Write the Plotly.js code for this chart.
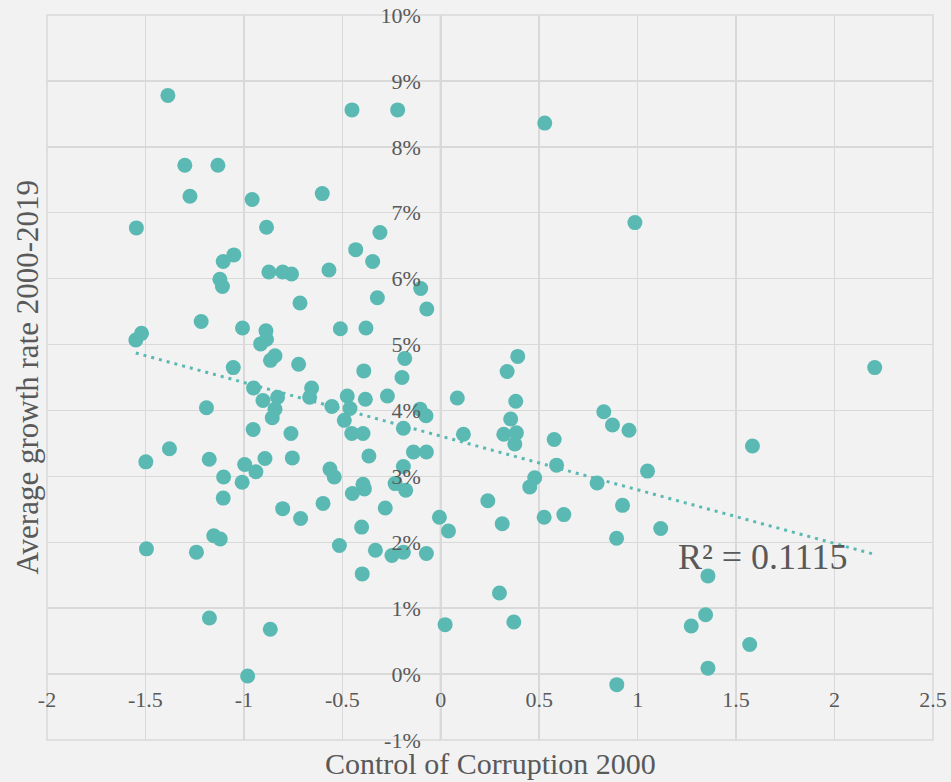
<!DOCTYPE html>
<html>
<head>
<meta charset="utf-8">
<script src="https://cdn.plot.ly/plotly-3.0.1.min.js"></script>
<style>
  html, body { margin: 0; padding: 0; background: #f2f2f2; }
  #chart { width: 951px; height: 782px; }
</style>
</head>
<body>
<div id="chart"></div>
<script>
// Control of Corruption 2000 (x) vs Average growth rate 2000-2019 in % (y)
const corruptionControl = [
  -1.386, -1.300, -1.132, -1.274, -0.958, -1.546, -1.051, -1.105, -1.122, -1.109,
  -0.885, -0.873, -0.803, -0.758, -0.715, -0.602, -0.568, -0.451, -0.219, -0.432,
  -0.309, -0.346, -0.322, -0.102, -0.071, -1.217, -1.007, -1.520, -1.549, -1.054,
  -1.190, -1.378, -1.498, -1.176, -0.996, -1.103, -1.009, -1.105, -1.153, -1.120,
  -1.495, -1.241, -0.888, -0.885, -0.915, -0.842, -0.865, -0.722, -0.510, -0.380,
  -0.183, -0.391, -0.197, -0.951, -0.656, -0.666, -0.829, -0.903, -0.842, -0.856,
  -0.475, -0.383, -0.271, -0.553, -0.461, -0.490, -0.105, -0.075, -0.190, -0.953,
  -0.761, -0.452, -0.395, -0.365, -0.139, -0.073, -0.893, -0.754, -0.939, -0.563,
  -0.541, -0.190, -0.232, -0.178, -0.395, -0.388, -0.449, -0.803, -0.712, -0.598,
  -0.282, -0.402, -0.007, 0.039, -0.515, -0.332, -0.248, -0.190, -0.073, -0.399,
  -0.866, -0.981, 0.022, -1.175, 0.528, 0.986, 0.391, 0.337, 0.084, 0.381,
  0.355, 0.115, 0.320, 0.384, 0.376, 0.576, 0.588, 0.828, 0.872, 0.956,
  0.477, 0.452, 0.794, 1.050, 0.239, 0.312, 0.525, 0.625, 0.923, 1.117,
  0.893, 0.298, 0.371, 0.894, 2.204, 1.583, 1.357, 1.345, 1.272, 1.569,
  1.357
];
const growthRate = [
  8.78, 7.72, 7.72, 7.25, 7.20, 6.77, 6.36, 6.26, 5.99, 5.88,
  6.78, 6.10, 6.10, 6.07, 5.63, 7.29, 6.13, 8.56, 8.56, 6.44,
  6.70, 6.26, 5.71, 5.85, 5.54, 5.35, 5.25, 5.17, 5.07, 4.65,
  4.04, 3.42, 3.22, 3.26, 3.18, 2.99, 2.91, 2.67, 2.10, 2.05,
  1.90, 1.85, 5.21, 5.08, 5.01, 4.83, 4.76, 4.70, 5.24, 5.25,
  4.79, 4.60, 4.50, 4.34, 4.34, 4.20, 4.20, 4.15, 4.02, 3.89,
  4.22, 4.17, 4.22, 4.06, 4.03, 3.85, 4.02, 3.92, 3.73, 3.71,
  3.65, 3.65, 3.65, 3.31, 3.37, 3.37, 3.27, 3.28, 3.07, 3.11,
  2.99, 3.15, 2.89, 2.79, 2.88, 2.81, 2.74, 2.51, 2.36, 2.59,
  2.52, 2.23, 2.38, 2.17, 1.95, 1.88, 1.80, 1.85, 1.83, 1.52,
  0.68, -0.03, 0.75, 0.85, 8.36, 6.85, 4.82, 4.59, 4.19, 4.14,
  3.87, 3.64, 3.64, 3.66, 3.49, 3.56, 3.17, 3.98, 3.78, 3.70,
  2.98, 2.84, 2.90, 3.08, 2.63, 2.28, 2.38, 2.42, 2.56, 2.21,
  2.06, 1.23, 0.79, -0.16, 4.65, 3.46, 1.49, 0.90, 0.73, 0.45,
  0.09
];

const xTickVals = [-2, -1.5, -1, -0.5, 0, 0.5, 1, 1.5, 2, 2.5];
const xTickText = ['-2', '-1.5', '-1', '-0.5', '0', '0.5', '1', '1.5', '2', '2.5'];
const yTickVals = [-1, 0, 1, 2, 3, 4, 5, 6, 7, 8, 9, 10];
const yTickText = ['-1%', '0%', '1%', '2%', '3%', '4%', '5%', '6%', '7%', '8%', '9%', '10%'];

const xTitle = 'Control of Corruption 2000';
const yTitle = 'Average growth rate 2000-2019';
const r2Label = 'R² = 0.1115';

// Linear (least squares) trendline across the data's x extent
const n = corruptionControl.length;
const mx = corruptionControl.reduce((a, b) => a + b, 0) / n;
const my = growthRate.reduce((a, b) => a + b, 0) / n;
let sxy = 0, sxx = 0;
for (let i = 0; i < n; i++) {
  sxy += (corruptionControl[i] - mx) * (growthRate[i] - my);
  sxx += (corruptionControl[i] - mx) ** 2;
}
const slope = sxy / sxx;
const intercept = my - slope * mx;
const xMin = Math.min(...corruptionControl);
const xMax = Math.max(...corruptionControl);
const trendX = [xMin, xMax];
const trendY = trendX.map(v => intercept + slope * v);

const teal = '#5bb9b3';
const textColor = '#595959';
const font = 'Liberation Serif, Times New Roman, serif';

const traces = [
  {
    x: corruptionControl, y: growthRate, type: 'scatter', mode: 'markers',
    marker: { color: teal, size: 15, line: { width: 0 } },
    hoverinfo: 'skip', cliponaxis: false
  },
  {
    x: trendX, y: trendY, type: 'scatter', mode: 'lines',
    line: { color: teal, width: 3, dash: '3px,5px' },
    hoverinfo: 'skip'
  }
];

const layout = {
  width: 951, height: 782,
  paper_bgcolor: '#f2f2f2', plot_bgcolor: '#f2f2f2',
  margin: { l: 47, r: 18, t: 15, b: 42 },
  showlegend: false,
  font: { family: font, color: textColor, size: 22 },
  xaxis: {
    range: [-2, 2.5], tickvals: xTickVals, ticktext: xTickText,
    showgrid: true, gridcolor: '#d9d9d9', gridwidth: 1.5,
    zeroline: false, showline: false, ticks: '',
    anchor: 'free', position: 1 / 11,
    ticklabelstandoff: 10,
    tickfont: { family: font, color: textColor, size: 22 }
  },
  yaxis: {
    range: [-1, 10], tickvals: yTickVals, ticktext: yTickText,
    showgrid: true, gridcolor: '#d9d9d9', gridwidth: 1.5,
    zeroline: false, showline: false, ticks: '',
    anchor: 'free', position: 2 / 4.5,
    ticklabelstandoff: 20,
    tickfont: { family: font, color: textColor, size: 22 }
  },
  shapes: [
    { type: 'rect', xref: 'paper', yref: 'paper', x0: 0, x1: 1, y0: 0, y1: 1,
      line: { color: '#d9d9d9', width: 1.5 }, layer: 'below' },
    { type: 'line', xref: 'x', yref: 'paper', x0: 0, x1: 0, y0: 0, y1: 1,
      line: { color: '#bfbfbf', width: 2 }, layer: 'below' },
    { type: 'line', xref: 'paper', yref: 'y', x0: 0, x1: 1, y0: 0, y1: 0,
      line: { color: '#bfbfbf', width: 2 }, layer: 'below' }
  ],
  annotations: [
    { text: xTitle, xref: 'paper', yref: 'paper', x: 0.5, y: 0, yshift: -23,
      xanchor: 'center', yanchor: 'middle', showarrow: false,
      font: { family: font, color: textColor, size: 30 } },
    { text: yTitle, xref: 'paper', yref: 'paper', x: 0, y: 0.5, xshift: -20,
      textangle: -90, xanchor: 'center', yanchor: 'middle', showarrow: false,
      font: { family: font, color: textColor, size: 31 } },
    { text: r2Label, xref: 'x', yref: 'y', x: 1.633, y: 1.78,
      xanchor: 'center', yanchor: 'middle', showarrow: false,
      font: { family: font, color: textColor, size: 36 } }
  ]
};

Plotly.newPlot('chart', traces, layout, { staticPlot: true, displayModeBar: false });
</script>
</body>
</html>
